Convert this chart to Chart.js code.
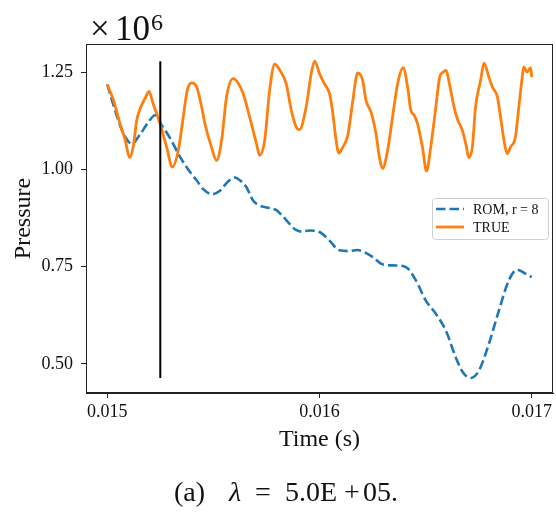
<!DOCTYPE html>
<html>
<head>
<meta charset="utf-8">
<script src="https://cdn.jsdelivr.net/npm/chart.js@4/dist/chart.umd.min.js"></script>
<style>
  html, body { margin: 0; padding: 0; background: #fff; }
  #wrap { width: 556px; height: 512px; }
</style>
</head>
<body>
<div id="wrap"><canvas id="c" width="556" height="512"></canvas></div>
<script>
// ---- data (pressure in units of 1e6) ----
const timeTrue = [0.015000,0.015028,0.015061,0.015085,0.015105,0.015123,0.015139,0.015155,0.015178,0.015197,0.015216,0.015249,0.015280,0.015307,0.015335,0.015358,0.015377,0.015398,0.015421,0.015445,0.015460,0.015491,0.015515,0.015539,0.015562,0.015593,0.015640,0.015671,0.015703,0.015718,0.015742,0.015765,0.015789,0.015812,0.015843,0.015867,0.015890,0.015906,0.015937,0.015961,0.015977,0.016000,0.016023,0.016047,0.016063,0.016078,0.016091,0.016110,0.016133,0.016157,0.016173,0.016180,0.016203,0.016219,0.016243,0.016266,0.016282,0.016297,0.016321,0.016344,0.016368,0.016394,0.016415,0.016430,0.016446,0.016462,0.016485,0.016504,0.016524,0.016548,0.016566,0.016579,0.016595,0.016618,0.016634,0.016649,0.016673,0.016689,0.016704,0.016720,0.016735,0.016759,0.016775,0.016798,0.016814,0.016838,0.016853,0.016869,0.016884,0.016900,0.016923,0.016939,0.016955,0.016962,0.016978,0.016994,0.017000];
const pressureTrue = [1.218,1.180,1.116,1.075,1.030,1.060,1.126,1.156,1.182,1.200,1.169,1.117,1.057,1.006,1.049,1.134,1.203,1.222,1.212,1.160,1.118,1.057,1.023,1.075,1.186,1.233,1.195,1.134,1.066,1.036,1.075,1.203,1.270,1.256,1.220,1.152,1.109,1.102,1.160,1.246,1.278,1.246,1.220,1.195,1.143,1.075,1.042,1.057,1.087,1.177,1.237,1.248,1.229,1.177,1.147,1.092,1.032,1.002,1.049,1.134,1.220,1.261,1.212,1.152,1.139,1.117,1.057,0.996,1.057,1.160,1.237,1.248,1.254,1.203,1.160,1.130,1.100,1.066,1.030,1.057,1.160,1.229,1.273,1.237,1.212,1.186,1.134,1.075,1.040,1.057,1.083,1.160,1.237,1.263,1.250,1.261,1.237];

const timeRom = [0.015000,0.015038,0.015070,0.015116,0.015155,0.015192,0.015225,0.015257,0.015296,0.015343,0.015390,0.015421,0.015451,0.015495,0.015531,0.015568,0.015601,0.015629,0.015656,0.015687,0.015718,0.015751,0.015797,0.015826,0.015859,0.015887,0.015915,0.015953,0.016000,0.016047,0.016094,0.016141,0.016178,0.016216,0.016250,0.016297,0.016360,0.016407,0.016454,0.016501,0.016548,0.016595,0.016642,0.016676,0.016712,0.016751,0.016798,0.016845,0.016892,0.016931,0.016970,0.017000];
const pressureRom = [1.218,1.150,1.100,1.066,1.090,1.120,1.139,1.113,1.080,1.032,0.993,0.972,0.950,0.936,0.945,0.968,0.979,0.970,0.954,0.920,0.907,0.902,0.895,0.880,0.860,0.845,0.840,0.843,0.839,0.817,0.792,0.790,0.793,0.786,0.775,0.756,0.753,0.749,0.715,0.663,0.629,0.586,0.517,0.478,0.464,0.483,0.552,0.637,0.715,0.742,0.732,0.723];

const markerTime = [0.01525];
const xTicks = [0.015, 0.016, 0.017];
const yTicks = [0.50, 0.75, 1.00, 1.25];
const seriesLabels = ['ROM, r = 8', 'TRUE'];

const allP = pressureTrue.concat(pressureRom);
const pMin = Math.min(...allP), pMax = Math.max(...allP);

const toXY = (xs, ys) => xs.map((x, i) => ({ x: x, y: ys[i] }));

const FONT = "'Liberation Serif', 'DejaVu Serif', serif";
const BLUE = '#1f77b4', ORANGE = '#ff7f0e';

const framePlugin = {
  id: 'frame',
  afterDraw(chart) {
    const { ctx, chartArea: a } = chart;
    ctx.save();
    // frame
    ctx.strokeStyle = '#222';
    ctx.lineWidth = 1;
    ctx.strokeRect(Math.round(a.left) + 0.5, Math.round(a.top) + 0.5, Math.round(a.right - a.left) - 1, Math.round(a.bottom - a.top) - 1);

    // offset text ×10^6
    ctx.fillStyle = '#111';
    ctx.textBaseline = 'alphabetic';
    ctx.textAlign = 'left';
    ctx.font = '35px ' + FONT;
    ctx.fillText('\u00D7', 90, 40);
    ctx.fillText('10', 115, 40);
    ctx.font = '24px ' + FONT;
    ctx.fillText('6', 151, 30);

    // legend
    const lx = 432, ly = 198, lw = 116, lh = 41;
    ctx.beginPath();
    ctx.roundRect(lx + 0.5, ly + 0.5, lw, lh, 3);
    ctx.fillStyle = 'rgba(255,255,255,0.85)';
    ctx.fill();
    ctx.strokeStyle = '#d0d0d0';
    ctx.lineWidth = 1;
    ctx.stroke();
    const dsets = chart.data.datasets.filter(d => d.label);
    dsets.forEach((d, i) => {
      const yy = 209 + i * 18;
      ctx.beginPath();
      ctx.strokeStyle = d.borderColor;
      ctx.lineWidth = d.borderWidth;
      ctx.setLineDash(d.borderDash || []);
      ctx.moveTo(436, yy);
      ctx.lineTo(464, yy);
      ctx.stroke();
      ctx.setLineDash([]);
      ctx.fillStyle = '#111';
      ctx.font = '14px ' + FONT;
      ctx.textBaseline = 'middle';
      ctx.fillText(d.label, 473, yy + 1);
    });

    // caption "(a)  λ = 5.0E+05."
    ctx.textBaseline = 'alphabetic';
    const cap = [
      { t: '(a)', f: '28px ' + FONT, x: 174 },
      { t: '\u03BB', f: 'italic 28px ' + FONT, x: 229 },
      { t: '=', f: '28px ' + FONT, x: 255 },
      { t: '5.0E', f: '28px ' + FONT, x: 285 },
      { t: '+', f: '28px ' + FONT, x: 344 },
      { t: '05.', f: '28px ' + FONT, x: 363 }
    ];
    cap.forEach(p => { ctx.font = p.f; ctx.fillText(p.t, p.x, 501); });
    ctx.restore();
  }
};

new Chart(document.getElementById('c'), {
  type: 'line',
  data: {
    datasets: [
      {
        label: seriesLabels[0],
        data: toXY(timeRom, pressureRom),
        borderColor: BLUE,
        borderWidth: 2.6,
        borderDash: [9.5, 4],
        pointRadius: 0,
        cubicInterpolationMode: 'monotone',
        fill: false,
        order: 2
      },
      {
        label: seriesLabels[1],
        data: toXY(timeTrue, pressureTrue),
        borderColor: ORANGE,
        borderWidth: 2.8,
        pointRadius: 0,
        cubicInterpolationMode: 'monotone',
        fill: false,
        order: 1
      },
      {
        label: '',
        data: [{ x: markerTime[0], y: pMin }, { x: markerTime[0], y: pMax }],
        borderColor: '#000',
        borderWidth: 2,
        pointRadius: 0,
        fill: false,
        order: 0
      }
    ]
  },
  options: {
    responsive: false,
    devicePixelRatio: 1,
    animation: false,
    layout: { padding: { left: 0, top: 44, right: 3, bottom: 0 } },
    plugins: { legend: { display: false }, tooltip: { enabled: false } },
    scales: {
      x: {
        type: 'linear',
        min: 0.0149,
        max: 0.0171,
        afterBuildTicks: s => { s.ticks = xTicks.map(v => ({ value: v })); },
        afterFit: s => { s.height = 119; },
        ticks: {
          callback: v => v.toFixed(3),
          font: { family: FONT, size: 18 },
          color: '#111',
          padding: 3,
          maxRotation: 0
        },
        grid: { display: true, drawOnChartArea: false, drawTicks: true, tickLength: 5, color: '#222', lineWidth: 1 },
        border: { display: true, color: '#222', width: 1 },
        title: { display: true, text: 'Time (s)', font: { family: FONT, size: 24 }, color: '#111', padding: { top: 0, bottom: 58 } }
      },
      y: {
        type: 'linear',
        min: 0.4255,
        max: 1.322,
        afterBuildTicks: s => { s.ticks = yTicks.map(v => ({ value: v })); },
        afterFit: s => { s.width = 86; },
        ticks: {
          callback: v => v.toFixed(2),
          font: { family: FONT, size: 18 },
          color: '#111',
          padding: 8
        },
        grid: { display: true, drawOnChartArea: false, drawTicks: true, tickLength: 5, color: '#222', lineWidth: 1 },
        border: { display: true, color: '#222', width: 1 },
        title: { display: true, text: 'Pressure', font: { family: FONT, size: 24 }, color: '#111', padding: { top: 9, bottom: 0 } }
      }
    }
  },
  plugins: [framePlugin]
});
</script>
</body>
</html>
